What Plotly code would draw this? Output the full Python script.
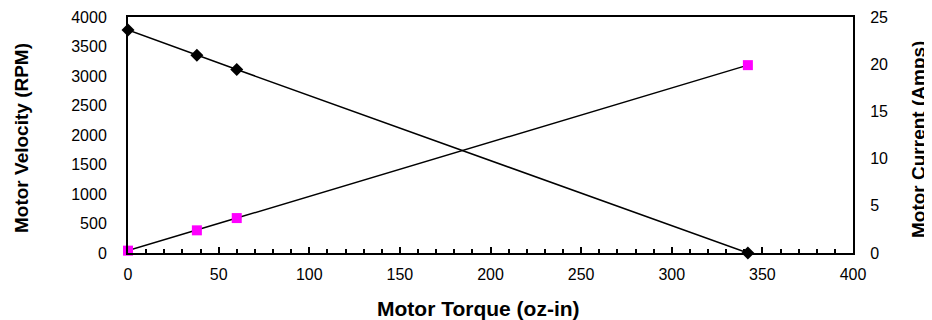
import plotly.graph_objects as go

torque = [0, 38, 60, 342]
velocity = [3780, 3350, 3110, 0]
current = [0.25, 2.4, 3.7, 19.9]

x_ticks = [0, 50, 100, 150, 200, 250, 300, 350, 400]
vel_ticks = [0, 500, 1000, 1500, 2000, 2500, 3000, 3500, 4000]
cur_ticks = [0, 5, 10, 15, 20, 25]

FONT = "Liberation Sans, Arial, sans-serif"
# the page body has an 8px margin, so the figure is sized to fit inside the window
OFF = 8
W, H = 932 - OFF, 320 - OFF
L, R, T, B = 128 - OFF, W - (853 - OFF), 17 - OFF, H - (253 - OFF)
PW = W - L - R
PH = H - T - B
CLEAR = "rgba(0,0,0,0)"


def px_x(page_x):
    return (page_x - OFF - L) / PW


def px_y(page_y):
    return (H - B - (page_y - OFF)) / PH


fig = go.Figure()
fig.add_trace(go.Scatter(
    x=torque, y=velocity, mode="lines+markers",
    line=dict(color="black", width=1.5),
    marker=dict(symbol="diamond", size=10, color="black"),
    yaxis="y", showlegend=False, cliponaxis=False,
))
fig.add_trace(go.Scatter(
    x=torque, y=current, mode="lines+markers",
    line=dict(color="black", width=1.5),
    marker=dict(symbol="square", size=10, color="#ff00ff"),
    yaxis="y2", showlegend=False, cliponaxis=False,
))

common = dict(showgrid=False, zeroline=False, automargin=False, anchor="x")

fig.update_layout(
    width=W, height=H,
    margin=dict(l=L, r=R, t=T, b=B, autoexpand=False),
    paper_bgcolor="white", plot_bgcolor="white",
    font=dict(family=FONT, size=16, color="black"),
    xaxis=dict(
        range=[0, 400], tickvals=x_ticks, ticktext=[str(v) for v in x_ticks],
        showgrid=False, zeroline=False, automargin=False,
        showline=True, linecolor="black", linewidth=2, mirror=True,
        ticks="inside", ticklen=6, tickwidth=1.5, tickcolor="black",
        minor=dict(ticks="inside", dtick=10, ticklen=4, tickwidth=1.5, tickcolor="black"),
        tickfont=dict(size=16), ticklabelstandoff=6,
    ),
    # left axis: labels pushed out by an invisible outside tick
    yaxis=dict(
        range=[0, 4000], tickvals=vel_ticks, ticktext=[str(v) for v in vel_ticks],
        showline=True, linecolor="black", linewidth=2,
        ticks="outside", ticklen=16, tickcolor=CLEAR,
        tickfont=dict(size=16), **common,
    ),
    # right axis: labels pushed out by an invisible outside tick
    yaxis2=dict(
        range=[0, 25], tickvals=cur_ticks, ticktext=[str(v) for v in cur_ticks],
        overlaying="y", side="right",
        showline=True, linecolor="black", linewidth=2,
        ticks="outside", ticklen=12, tickcolor=CLEAR,
        tickfont=dict(size=16), **common,
    ),
    # visible tick marks
    yaxis3=dict(
        range=[0, 25], tickvals=cur_ticks, overlaying="y", side="right",
        showline=False, ticks="outside", ticklen=6, tickwidth=1, tickcolor="#555555",
        showticklabels=False, **common,
    ),
    yaxis4=dict(
        range=[0, 25], tickvals=cur_ticks, overlaying="y", side="right",
        showline=False, ticks="inside", ticklen=6, tickwidth=1, tickcolor="#555555",
        showticklabels=False, **common,
    ),
    yaxis5=dict(
        range=[0, 4000], tickvals=vel_ticks, overlaying="y", side="left",
        showline=False, ticks="inside", ticklen=6, tickwidth=1.5, tickcolor="black",
        showticklabels=False, **common,
    ),
    annotations=[
        dict(text="<b>Motor Torque (oz-in)</b>", xref="paper", yref="paper",
             x=px_x(478), y=px_y(308), xanchor="center", yanchor="middle",
             showarrow=False, font=dict(size=21)),
        dict(text="<b>Motor Velocity (RPM)</b>", xref="paper", yref="paper",
             x=px_x(21), y=px_y(138), xanchor="center", yanchor="middle",
             textangle=-90, showarrow=False, font=dict(size=19)),
        dict(text="<b>Motor Current (Amps)</b>", xref="paper", yref="paper",
             x=px_x(918), y=px_y(140), xanchor="center", yanchor="middle",
             textangle=-90, showarrow=False, font=dict(size=19)),
    ],
)

fig.write_html("out.html")
